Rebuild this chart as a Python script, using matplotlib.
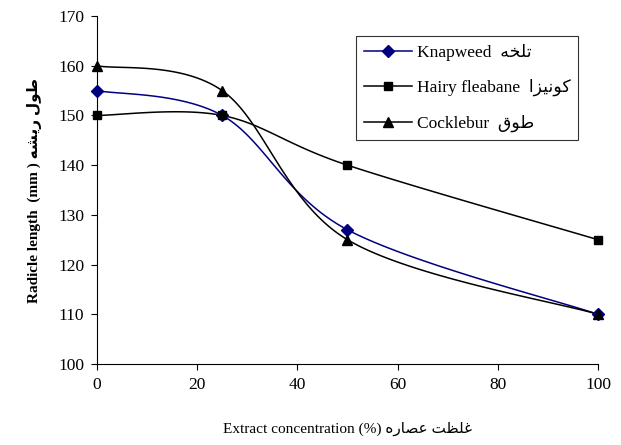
import matplotlib
matplotlib.use("Agg")
import matplotlib.pyplot as plt
import numpy as np

# data
conc = [0, 25, 50, 100]
knapweed = [155, 150, 127, 110]
fleabane = [150, 150, 140, 125]
cocklebur = [160, 155, 125, 110]

# Persian words, already shaped and written in visual (left-to-right) order
fa_knapweed = "\uFEEA\uFEA8\uFEE0\uFE97"                  # تلخه
fa_fleabane = "\uFE8D\uFEB0\uFEF4\uFEE7\uFEEE\uFB90"      # کونیزا
fa_cocklebur = "\uFED5\uFEEE\uFEC3"                       # طوق
fa_ylabel = "\uFEEA\uFEB8\uFEF3\uFEAD \uFEDD\uFEEE\uFEC3"  # طول ریشه
fa_xlabel = "\uFEE9\uFEAD\uFE8E\uFEBC\uFECB \uFE96\uFEC8\uFEE0\uFECF"  # غلظت عصاره

familia = ["Liberation Serif", "DejaVu Sans"]


def suaviza(xs, ys, n=40):
    # curva suave tipo Excel (Catmull-Rom) so para desenhar a linha
    p = np.column_stack([xs, ys]).astype(float)
    p = np.vstack([p[0], p, p[-1]])
    saida = []
    for i in range(1, len(p) - 2):
        p0, p1, p2, p3 = p[i - 1], p[i], p[i + 1], p[i + 2]
        t = np.linspace(0, 1, n)[:, None]
        c = 0.5 * ((2 * p1) + (-p0 + p2) * t + (2 * p0 - 5 * p1 + 4 * p2 - p3) * t ** 2
                   + (-p0 + 3 * p1 - 3 * p2 + p3) * t ** 3)
        saida.append(c)
    c = np.vstack(saida)
    return c[:, 0], c[:, 1]


fig = plt.figure(figsize=(6.21, 4.45), dpi=100)
ax = fig.add_axes([0.156, 0.182, 0.807, 0.782])

series = [
    (knapweed, "Knapweed  " + fa_knapweed, "#000080", "D", 6.5),
    (fleabane, "Hairy fleabane  " + fa_fleabane, "black", "s", 6),
    (cocklebur, "Cocklebur  " + fa_cocklebur, "black", "^", 7),
]
for valores, rotulo, cor, marca, tam in series:
    sx, sy = suaviza(conc, valores)
    ax.plot(sx, sy, color=cor, lw=1.1, clip_on=False)
    ax.plot(conc, valores, linestyle="none", marker=marca, color=cor, ms=tam, clip_on=False, zorder=3)
    ax.plot([], [], color=cor, lw=1.1, marker=marca, ms=tam, label=rotulo)

ax.set_xlim(0, 100)
ax.set_ylim(100, 170)
ax.set_xticks(np.arange(0, 101, 20))
ax.set_yticks(np.arange(100, 171, 10))
ax.spines["top"].set_visible(False)
ax.spines["right"].set_visible(False)
ax.tick_params(direction="out", length=4, width=0.8, labelsize=12.5, pad=5)
for rot in ax.get_xticklabels() + ax.get_yticklabels():
    rot.set_fontfamily(familia)

ax.set_xlabel("Extract concentration (%) " + fa_xlabel, fontsize=11, family=familia, labelpad=21)
ax.set_ylabel("Radicle length  (mm ) " + fa_ylabel, fontsize=11, fontweight="bold",
              family=familia, labelpad=12)

leg = ax.legend(loc="upper left", bbox_to_anchor=(0.517, 0.9425), prop={"family": familia, "size": 12.5},
                frameon=True, fancybox=False, edgecolor="black", handlelength=2.75,
                borderpad=0.45, labelspacing=1.05, handletextpad=0.3, borderaxespad=0)
leg.get_frame().set_linewidth(0.8)

plt.savefig("out.png", dpi=100)
plt.close()
